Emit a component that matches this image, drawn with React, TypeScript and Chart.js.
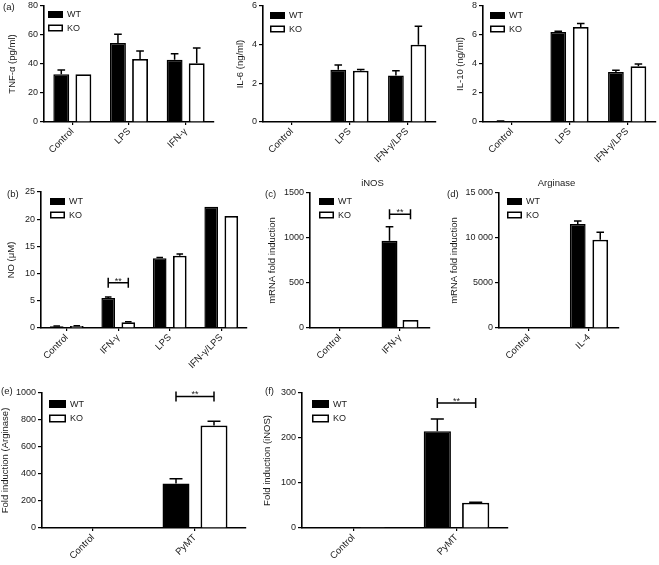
import React, { useEffect, useRef } from "react";
import { Chart, registerables } from "chart.js";
Chart.register(...registerables);

const FONT = '"Liberation Sans", Arial, Helvetica, sans-serif';
const TXT = "#1a1a1a";

// ---------- data ----------
const seriesNames = ["WT", "KO"];

// (a) TNF-alpha
const tnfCats = ["Control", "LPS", "IFN-γ"];
const tnfWT = [33, 54.5, 43];
const tnfWTErr = [2.8, 6, 4];
const tnfKO = [33, 43.5, 40.5];
const tnfKOErr = [0, 5.5, 10.5];
const tnfTicks = [0, 20, 40, 60, 80];

// IL-6
const il6Cats = ["Control", "LPS", "IFN-γ/LPS"];
const il6WT = [0, 2.7, 2.4];
const il6WTErr = [0, 0.25, 0.25];
const il6KO = [0, 2.65, 4.0];
const il6KOErr = [0, 0.07, 0.95];
const il6Ticks = [0, 2, 4, 6];

// IL-10
const il10Cats = ["Control", "LPS", "IFN-γ/LPS"];
const il10WT = [0.05, 6.2, 3.45];
const il10WTErr = [0.02, 0.06, 0.12];
const il10KO = [0, 6.55, 3.85];
const il10KOErr = [0, 0.25, 0.15];
const il10Ticks = [0, 2, 4, 6, 8];

// (b) NO
const noCats = ["Control", "IFN-γ", "LPS", "IFN-γ/LPS"];
const noWT = [0.3, 5.5, 12.8, 22.3];
const noWTErr = [0.08, 0.2, 0.15, 0];
const noKO = [0.35, 1.05, 13.3, 20.6];
const noKOErr = [0.05, 0.1, 0.3, 0];
const noTicks = [0, 5, 10, 15, 20, 25];
const noSig = { index: 1, value: 8.3, label: "**" };

// (c) iNOS mRNA
const inosCats = ["Control", "IFN-γ"];
const inosWT = [0, 970];
const inosWTErr = [0, 155];
const inosKO = [0, 90];
const inosKOErr = [0, 0];
const inosTicks = [0, 500, 1000, 1500];
const inosSig = { index: 1, value: 1265, label: "**" };

// (d) Arginase mRNA
const argCats = ["Control", "IL-4"];
const argWT = [0, 11550];
const argWTErr = [0, 330];
const argKO = [0, 9800];
const argKOErr = [0, 830];
const argTicks = [0, 5000, 10000, 15000];

// (e) Fold induction Arginase
const pymtCats = ["Control", "PyMT"];
const fArgWT = [3, 330];
const fArgWTErr = [0, 35];
const fArgKO = [3, 760];
const fArgKOErr = [0, 30];
const fArgTicks = [0, 200, 400, 600, 800, 1000];
const fArgSig = { index: 1, value: 975, label: "**" };

// (f) Fold induction iNOS
const fInosWT = [1.5, 215];
const fInosWTErr = [0, 27];
const fInosKO = [1.5, 56];
const fInosKOErr = [0, 1];
const fInosTicks = [0, 100, 200, 300];
const fInosSig = { index: 1, value: 278, label: "**" };

// ---------- helpers ----------
function fmtThousands(v: number) {
  if (v >= 10000) {
    const k = Math.floor(v / 1000);
    const r = String(v % 1000).padStart(3, "0");
    return k + " " + r;
  }
  return String(v);
}

const decorPlugin = {
  id: "decor",
  afterDatasetsDraw(chart: any, _args: any, opts: any) {
    const ctx = chart.ctx;
    const ys = chart.scales.y;
    const ca = chart.chartArea;
    ctx.save();
    // error bars
    chart.data.datasets.forEach((ds: any, di: number) => {
      const meta = chart.getDatasetMeta(di);
      meta.data.forEach((bar: any, i: number) => {
        const e = ds.errors ? ds.errors[i] : 0;
        if (!e) return;
        const v = ds.data[i];
        const yt = ys.getPixelForValue(v + e);
        const half = bar.width * 0.24;
        ctx.strokeStyle = "#000";
        ctx.lineWidth = 1.5;
        ctx.beginPath();
        ctx.moveTo(bar.x, bar.y);
        ctx.lineTo(bar.x, yt);
        ctx.moveTo(bar.x - half, yt);
        ctx.lineTo(bar.x + half, yt);
        ctx.stroke();
      });
    });
    // significance bracket
    if (opts.sig) {
      const b0 = chart.getDatasetMeta(0).data[opts.sig.index];
      const b1 = chart.getDatasetMeta(1).data[opts.sig.index];
      const y = ys.getPixelForValue(opts.sig.value);
      ctx.strokeStyle = "#000";
      ctx.lineWidth = 1.5;
      ctx.beginPath();
      ctx.moveTo(b0.x, y);
      ctx.lineTo(b1.x, y);
      ctx.moveTo(b0.x, y - 5);
      ctx.lineTo(b0.x, y + 5);
      ctx.moveTo(b1.x, y - 5);
      ctx.lineTo(b1.x, y + 5);
      ctx.stroke();
      ctx.fillStyle = TXT;
      ctx.font = `9px ${FONT}`;
      ctx.textAlign = "center";
      ctx.textBaseline = "alphabetic";
      ctx.fillText(opts.sig.label, (b0.x + b1.x) / 2, y + 1);
    }
    // legend
    const lg = opts.legend;
    if (lg) {
      chart.data.datasets.forEach((ds: any, di: number) => {
        const x = ca.left + lg.dx;
        const y = ca.top + lg.dy + di * lg.gap;
        ctx.fillStyle = ds.backgroundColor;
        ctx.fillRect(x, y, lg.w, lg.h);
        ctx.strokeStyle = "#000";
        ctx.lineWidth = 1.5;
        ctx.strokeRect(x + 0.75, y + 0.75, lg.w - 1.5, lg.h - 1.5);
        ctx.fillStyle = TXT;
        ctx.font = `9px ${FONT}`;
        ctx.textAlign = "left";
        ctx.textBaseline = "middle";
        ctx.fillText(ds.label, x + lg.w + 4, y + lg.h / 2 + 0.5);
      });
    }
    // title
    if (opts.title) {
      ctx.fillStyle = TXT;
      ctx.font = `9.5px ${FONT}`;
      ctx.textAlign = "center";
      ctx.textBaseline = "middle";
      ctx.fillText(opts.title, (ca.left + ca.right) / 2 + (opts.titleDx || 0), ca.top - 9.5);
    }
    ctx.restore();
  },
};

type PanelCfg = {
  id: string;
  cats: string[];
  wt: number[];
  wtErr: number[];
  ko: number[];
  koErr: number[];
  ticks: number[];
  yTitle: string;
  title?: string;
  titleDx?: number;
  sig?: { index: number; value: number; label: string };
  tickFmt?: (v: number) => string;
  x0: number;
  x1: number;
  y0: number;
  y1: number;
  titleDist: number;
  catPct: number;
  barPct: number;
  legend: { dx: number; dy: number; w: number; h: number; gap: number };
};

const smallLeg = (dx: number, dy: number) => ({ dx, dy, w: 15, h: 7, gap: 13.5 });
const bigLeg = (dx: number, dy: number) => ({ dx, dy, w: 17, h: 8, gap: 14.5 });

const panels: PanelCfg[] = [
  {
    id: "a", cats: tnfCats, wt: tnfWT, wtErr: tnfWTErr, ko: tnfKO, koErr: tnfKOErr,
    ticks: tnfTicks, yTitle: "TNF-α (pg/ml)",
    x0: 44, x1: 214, y0: 6, y1: 122, titleDist: 31, catPct: 0.78, barPct: 0.72,
    legend: smallLeg(4, 5),
  },
  {
    id: "il6", cats: il6Cats, wt: il6WT, wtErr: il6WTErr, ko: il6KO, koErr: il6KOErr,
    ticks: il6Ticks, yTitle: "IL-6 (ng/ml)",
    x0: 263, x1: 436, y0: 6, y1: 122, titleDist: 22, catPct: 0.78, barPct: 0.7,
    legend: smallLeg(7, 6),
  },
  {
    id: "il10", cats: il10Cats, wt: il10WT, wtErr: il10WTErr, ko: il10KO, koErr: il10KOErr,
    ticks: il10Ticks, yTitle: "IL-10 (ng/ml)",
    x0: 483, x1: 656, y0: 6, y1: 122, titleDist: 22, catPct: 0.78, barPct: 0.7,
    legend: smallLeg(7, 6),
  },
  {
    id: "b", cats: noCats, wt: noWT, wtErr: noWTErr, ko: noKO, koErr: noKOErr,
    ticks: noTicks, yTitle: "NO (μM)", sig: noSig,
    x0: 41, x1: 247, y0: 192, y1: 328, titleDist: 29, catPct: 0.78, barPct: 0.68,
    legend: smallLeg(9, 6),
  },
  {
    id: "c", cats: inosCats, wt: inosWT, wtErr: inosWTErr, ko: inosKO, koErr: inosKOErr,
    ticks: inosTicks, yTitle: "mRNA fold induction", title: "iNOS", titleDx: 2.5, sig: inosSig,
    x0: 310, x1: 430, y0: 193, y1: 328, titleDist: 37, catPct: 0.7, barPct: 0.76,
    legend: smallLeg(9, 5),
  },
  {
    id: "d", cats: argCats, wt: argWT, wtErr: argWTErr, ko: argKO, koErr: argKOErr,
    ticks: argTicks, yTitle: "mRNA fold induction", title: "Arginase", titleDx: -2.5, tickFmt: fmtThousands,
    x0: 499, x1: 619, y0: 193, y1: 328, titleDist: 44, catPct: 0.75, barPct: 0.7,
    legend: smallLeg(8, 5),
  },
  {
    id: "e", cats: pymtCats, wt: fArgWT, wtErr: fArgWTErr, ko: fArgKO, koErr: fArgKOErr,
    ticks: fArgTicks, yTitle: "Fold induction (Arginase)", sig: fArgSig,
    x0: 42, x1: 246, y0: 393, y1: 528, titleDist: 36, catPct: 0.745, barPct: 0.71,
    legend: bigLeg(7, 7),
  },
  {
    id: "f", cats: pymtCats, wt: fInosWT, wtErr: fInosWTErr, ko: fInosKO, koErr: fInosKOErr,
    ticks: fInosTicks, yTitle: "Fold induction (iNOS)", sig: fInosSig,
    x0: 302, x1: 508, y0: 393, y1: 528, titleDist: 34, catPct: 0.745, barPct: 0.71,
    legend: bigLeg(10, 7),
  },
];

const panelLabels = [
  { t: "(a)", x: 3, y: 7 },
  { t: "(b)", x: 7, y: 194 },
  { t: "(c)", x: 265, y: 194 },
  { t: "(d)", x: 447, y: 194 },
  { t: "(e)", x: 1, y: 391 },
  { t: "(f)", x: 265, y: 391 },
];

function Panel({ p }: { p: PanelCfg }) {
  const ref = useRef<HTMLCanvasElement>(null);
  const padTop = 16;
  const padRight = 3;
  const H = 52;
  const left = Math.round(p.x0 - (p.titleDist + 5.7));
  const W = p.x0 - left;
  const top = p.y0 - padTop;
  const width = Math.round(p.x1 - left + padRight);
  const height = Math.round(p.y1 - top + H);

  useEffect(() => {
    const step = p.ticks[1] - p.ticks[0];
    const chart = new Chart(ref.current as HTMLCanvasElement, {
      type: "bar",
      data: {
        labels: p.cats,
        datasets: [
          {
            label: seriesNames[0],
            data: p.wt,
            errors: p.wtErr,
            backgroundColor: "#000",
            borderColor: "#000",
            borderWidth: 1.5,
            categoryPercentage: p.catPct,
            barPercentage: p.barPct,
          } as any,
          {
            label: seriesNames[1],
            data: p.ko,
            errors: p.koErr,
            backgroundColor: "#fff",
            borderColor: "#000",
            borderWidth: 1.8,
            categoryPercentage: p.catPct,
            barPercentage: p.barPct,
          } as any,
        ],
      },
      options: {
        responsive: false,
        animation: false,
        events: [],
        layout: { padding: { top: padTop, left: 0, right: padRight, bottom: 0 } },
        plugins: {
          legend: { display: false },
          tooltip: { enabled: false },
          decor: { sig: p.sig, legend: p.legend, title: p.title, titleDx: p.titleDx },
        } as any,
        scales: {
          x: {
            offset: true,
            grid: {
              display: true,
              drawOnChartArea: false,
              drawTicks: true,
              tickLength: 3,
              offset: false,
              color: "#000",
              lineWidth: 1.2,
            },
            border: { display: true, color: "#000", width: 1.6 },
            ticks: {
              minRotation: 45,
              maxRotation: 45,
              autoSkip: false,
              padding: 1,
              color: TXT,
              font: { family: FONT, size: 9.5 },
            },
            afterFit: (s: any) => {
              s.height = H;
            },
          },
          y: {
            min: p.ticks[0],
            max: p.ticks[p.ticks.length - 1],
            grid: {
              display: true,
              drawOnChartArea: false,
              drawTicks: true,
              tickLength: 4,
              color: "#000",
              lineWidth: 1.2,
            },
            border: { display: true, color: "#000", width: 1.6 },
            ticks: {
              stepSize: step,
              padding: 2,
              color: TXT,
              font: { family: FONT, size: 9 },
              callback: (v: any) => (p.tickFmt ? p.tickFmt(Number(v)) : String(v)),
            },
            title: {
              display: true,
              text: p.yTitle,
              color: TXT,
              padding: 0,
              font: { family: FONT, size: 9.5 },
            },
            afterFit: (s: any) => {
              s.width = W;
            },
          },
        },
      },
      plugins: [decorPlugin],
    } as any);
    return () => chart.destroy();
  }, []);

  return (
    <canvas
      ref={ref}
      width={width}
      height={height}
      style={{ position: "absolute", left, top, width, height }}
    />
  );
}

export default function App() {
  return (
    <div
      style={{
        position: "absolute",
        left: 0,
        top: 0,
        width: 659,
        height: 565,
        background: "#fff",
        overflow: "hidden",
        fontFamily: FONT,
      }}
    >
      {panels.map((p) => (
        <Panel key={p.id} p={p} />
      ))}
      {panelLabels.map((l) => (
        <span
          key={l.t}
          style={{
            position: "absolute",
            left: l.x,
            top: l.y - 6,
            fontSize: 9.5,
            lineHeight: "12px",
            color: TXT,
            fontFamily: FONT,
          }}
        >
          {l.t}
        </span>
      ))}
    </div>
  );
}
